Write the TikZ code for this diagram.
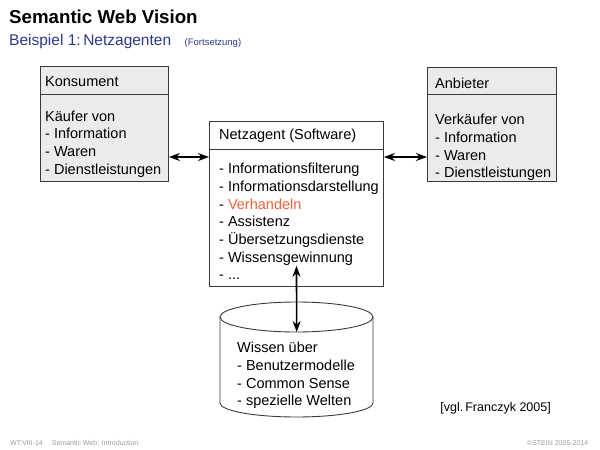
\documentclass[tikz,border=0pt]{standalone}
\usepackage{fontspec}
\setmainfont{Liberation Sans}
\usetikzlibrary{arrows.meta,calc}
\definecolor{titleblue}{HTML}{2B3A8A}
\definecolor{hl}{HTML}{F0603A}
\definecolor{boxgray}{HTML}{EBEBEB}
\definecolor{edgegray}{HTML}{3A3A3A}
\definecolor{footgray}{HTML}{9A9A9A}
\begin{document}
\begin{tikzpicture}[x=1pt,y=-1pt,
  frame/.style={draw=edgegray, line width=0.9pt, inner sep=0pt, anchor=north west},
  gframe/.style={frame, fill=boxgray},
  txt/.style={anchor=west, inner sep=0pt, align=left, font=\fontsize{14.5}{17.7}\selectfont},
  biarrow/.style={{Stealth[length=11pt,width=8pt]}-{Stealth[length=11pt,width=8pt]}, line width=1.6pt},
  foot/.style={inner sep=0pt, text=footgray, font=\fontsize{7}{8}\selectfont},
]
\useasboundingbox (0,0) rectangle (600,450);

% title
\node[anchor=base west, inner sep=0pt, font=\fontsize{18.7}{22}\selectfont\bfseries] (title) at (9,23.3) {Semantic Web Vision};
\node[anchor=base west, inner sep=0pt, text=titleblue, font=\fontsize{15.5}{18}\selectfont] (sub) at (9,45) {Beispiel 1:\,Netzagenten};
\node[anchor=base west, inner sep=0pt, text=titleblue, font=\fontsize{9.5}{11}\selectfont] (fort) at (184.5,45) {(Fortsetzung)};

% Konsument
\node[gframe, minimum width=128.5, minimum height=28] (kh) at (39.5,66) {};
\node[gframe, minimum width=128.5, minimum height=87] (kb) at (39.5,94) {};
\node[txt] (kht) at (45,82) {Konsument};
\node[txt] (kbt) at (45,144) {Käufer von\\- Information\\- Waren\\- Dienstleistungen};

% Netzagent
\node[frame, fill=white, minimum width=174, minimum height=28] (nh) at (209,121) {};
\node[frame, fill=white, minimum width=174, minimum height=137] (nb) at (209,149) {};
\node[txt] (nht) at (219,135.5) {Netzagent (Software)};
\node[txt] (nbt) at (219,221.5) {- Informationsfilterung\\- Informationsdarstellung\\- \textcolor{hl}{Verhandeln}\\- Assistenz\\- Übersetzungsdienste\\- Wissensgewinnung\\- ...};

% Anbieter
\node[gframe, minimum width=129, minimum height=27] (ah) at (427,67) {};
\node[gframe, minimum width=129, minimum height=87] (ab) at (427,94) {};
\node[txt] (aht) at (435,83) {Anbieter};
\node[txt] (abt) at (435,147.5) {Verkäufer von\\- Information\\- Waren\\- Dienstleistungen};

% Wissen (cylinder)
\node[inner sep=0pt, minimum width=153, minimum height=115, anchor=north west] (db) at (220,302) {};
\draw[edgegray, line width=0.9pt, fill=white]
  (220,317) -- (220,403) arc[start angle=180, end angle=0, x radius=76.5, y radius=14]
  -- (373,317);
\draw[edgegray, line width=0.9pt, fill=white] (296.5,317) ellipse [x radius=76.5, y radius=15];
\node[txt] (dbt) at (237,375.5) {Wissen über\\- Benutzermodelle\\- Common Sense\\- spezielle Welten};

% connectors
\coordinate (lvl) at (0,157);
\draw[biarrow] (kb.east |- lvl) -- (nb.west |- lvl);
\draw[biarrow] (nb.east |- lvl) -- (ab.west |- lvl);
\draw[biarrow] ($(nb.south)+(0,-21)$) -- ($(db.north)+(0,30)$);

% reference
\node[anchor=base east, inner sep=0pt, font=\fontsize{12.5}{15}\selectfont] (ref) at (551,411) {[vgl.\,Franczyk 2005]};

% footer
\node[foot, anchor=base west] (fl) at (10,445) {WT:VIII-14\hspace{9pt}Semantic Web: Introduction};
\node[foot, anchor=base east] (fr) at (588.5,445) {©STEIN 2005-2014};
\end{tikzpicture}
\end{document}
